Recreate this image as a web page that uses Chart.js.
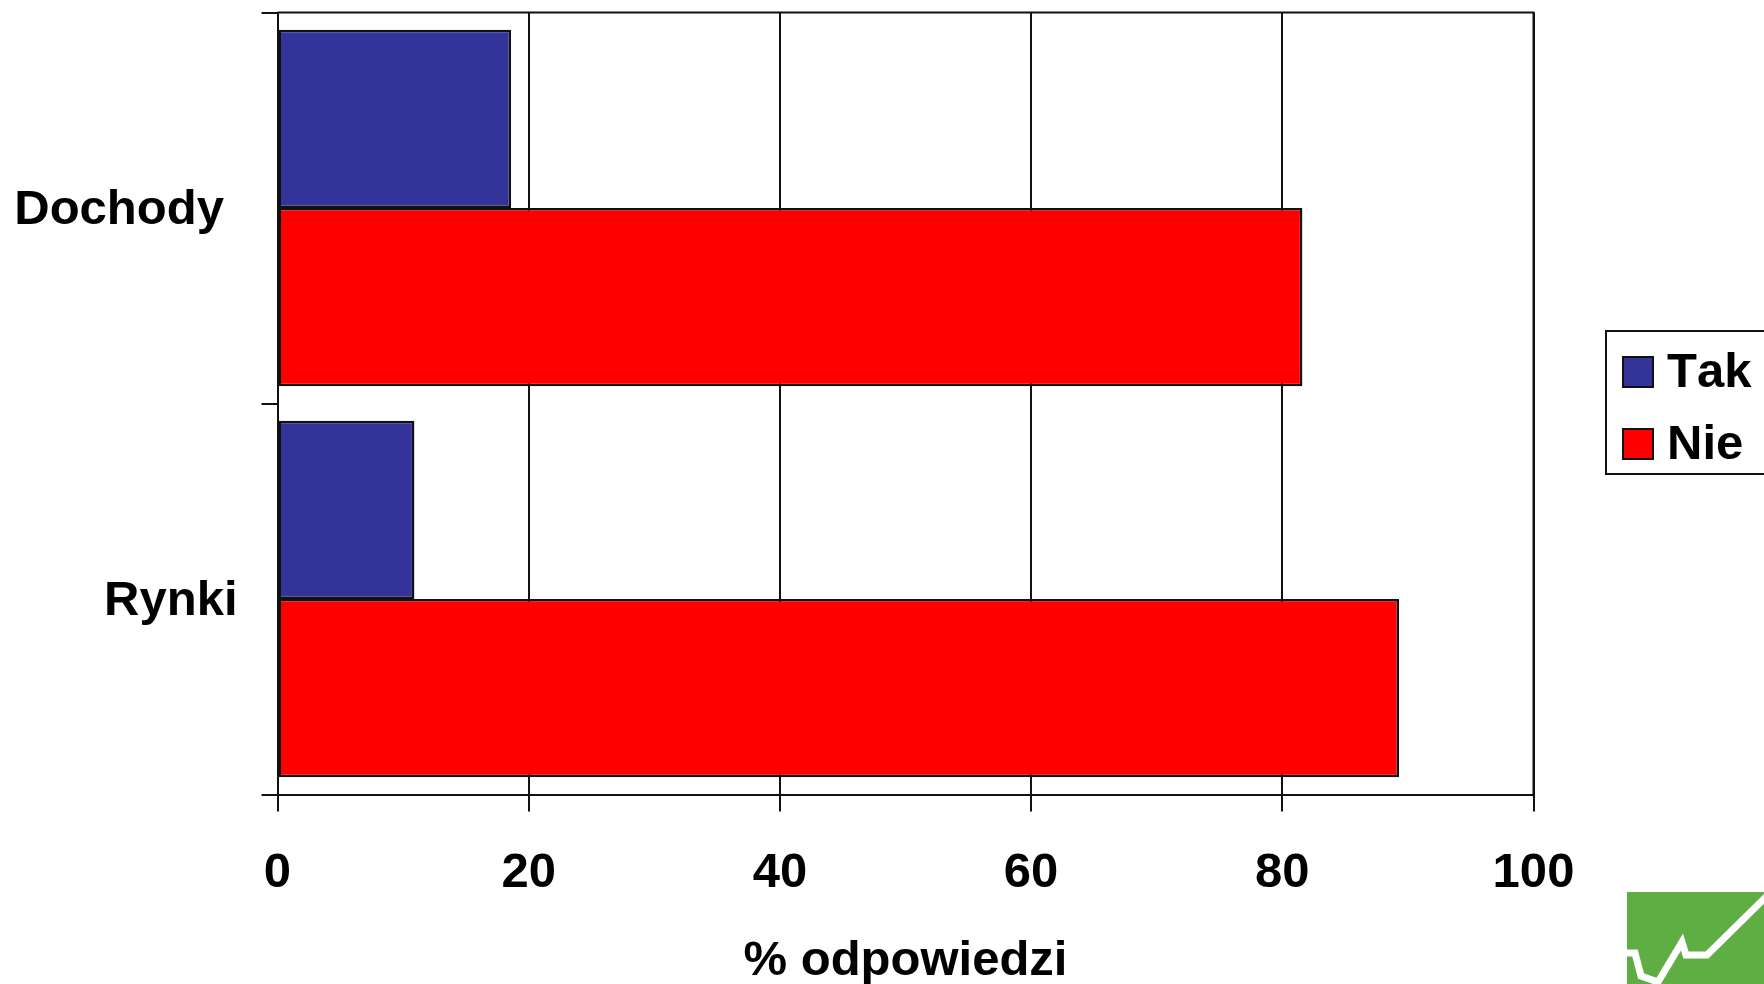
<!DOCTYPE html>
<html>
<head>
<meta charset="utf-8">
<title>Dochody i rynki</title>
<script src="https://cdn.jsdelivr.net/npm/chart.js@4"></script>
<style>
  html, body { margin: 0; padding: 0; background: #fff; overflow: hidden; }
  #wrap { position: relative; width: 1764px; height: 984px; }
  #legend {
    position: absolute; left: 1605px; top: 330px; width: 170px; height: 145px;
    border: 2px solid #111; background: #fff; box-sizing: border-box;
    font: bold 49px "Liberation Sans", Arial, sans-serif; color: #000;
    font-kerning: none;
  }
  #legend div { position: absolute; left: 15px; height: 56px; line-height: 56px; white-space: nowrap; }
  #legend i {
    display: inline-block; width: 32px; height: 32px; box-sizing: border-box;
    border: 2px solid #111; margin-right: 13px; vertical-align: -1px;
  }
  #logo { position: absolute; left: 1627px; top: 892px; }
</style>
</head>
<body>
<div id="wrap">
  <canvas id="chart" width="1764" height="984"></canvas>
  <div id="legend"></div>
  <svg id="logo" width="137" height="92" viewBox="1627 892 137 92">
    <rect x="1627" y="892" width="137" height="92" fill="#5fae44"/>
    <polyline points="1627,953 1635,953 1641,976 1658,982 1682,942 1686,955 1707,955 1770,893"
      fill="none" stroke="#fff" stroke-width="7"/>
  </svg>
</div>
<script>
const categories = ['Dochody', 'Rynki'];
const takValues = [18.6, 10.9];
const nieValues = [81.6, 89.3];
const xTicks = [0, 20, 40, 60, 80, 100];

const fontFamily = '"Liberation Sans", Arial, sans-serif';
const labelFont = { family: fontFamily, size: 49, weight: 'bold' };
const lineColor = '#111';

// frame along the top and right of the plot, the scales only draw left and bottom
const plotFrame = {
  id: 'plotFrame',
  beforeDatasetsDraw(chart) {
    const { ctx, chartArea: a } = chart;
    ctx.save();
    ctx.strokeStyle = lineColor;
    ctx.lineWidth = 2;
    ctx.beginPath();
    ctx.moveTo(a.left, a.top);
    ctx.lineTo(a.right, a.top);
    ctx.lineTo(a.right, a.bottom);
    ctx.stroke();
    ctx.restore();
  }
};

const chart = new Chart(document.getElementById('chart'), {
  type: 'bar',
  plugins: [plotFrame],
  data: {
    labels: categories,
    datasets: [
      { label: 'Tak', data: takValues, backgroundColor: '#333399' },
      { label: 'Nie', data: nieValues, backgroundColor: '#ff0000' }
    ]
  },
  options: {
    indexAxis: 'y',
    responsive: false,
    animation: false,
    layout: { padding: { top: 12.5, right: 230.5, left: 0, bottom: 0 } },
    datasets: {
      bar: {
        barPercentage: 1,
        categoryPercentage: 0.912,
        borderColor: lineColor,
        borderWidth: 2.5,
        borderSkipped: false
      }
    },
    plugins: {
      legend: { display: false },
      tooltip: { enabled: false }
    },
    scales: {
      x: {
        min: 0,
        max: 100,
        afterFit: scale => { scale.height = 189.5; },
        afterBuildTicks: scale => { scale.ticks = xTicks.map(value => ({ value })); },
        grid: { color: lineColor, lineWidth: 2, tickLength: 17 },
        border: { color: lineColor, width: 2 },
        ticks: { color: '#000', font: labelFont, padding: 33, maxRotation: 0 },
        title: {
          display: true,
          text: '% odpowiedzi',
          color: '#000',
          font: labelFont,
          padding: { top: 0, bottom: -7 }
        }
      },
      y: {
        // the label height would otherwise push the plot top down
        afterFit: scale => {
          scale.width = 277.5;
          scale.paddingTop = 0;
          scale.paddingBottom = 0;
        },
        grid: { color: lineColor, lineWidth: 2, tickLength: 16, drawOnChartArea: false },
        border: { color: lineColor, width: 2 },
        ticks: {
          color: '#000',
          font: labelFont,
          padding: 24,
          labelOffset: 2,
          // Dochody sits a little left of Rynki in the original
          callback: (value, index) => index === 0 ? categories[index] + ' ' : categories[index]
        }
      }
    }
  }
});

const legend = document.getElementById('legend');
chart.data.datasets.forEach((dataset, i) => {
  const row = document.createElement('div');
  row.style.top = (10 + i * 72) + 'px';
  const swatch = document.createElement('i');
  swatch.style.background = dataset.backgroundColor;
  row.appendChild(swatch);
  row.appendChild(document.createTextNode(dataset.label));
  legend.appendChild(row);
});
</script>
</body>
</html>
